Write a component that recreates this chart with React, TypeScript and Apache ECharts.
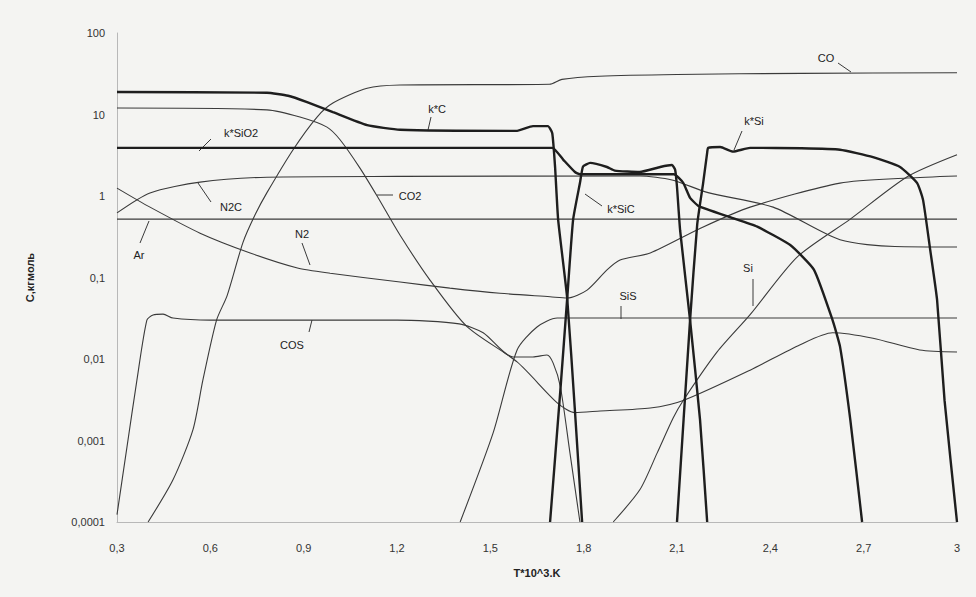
import React, { useEffect, useRef } from "react";
import * as echarts from "echarts";

// ---- tick labels ----
const xTickLabels = ["0,3", "0,6", "0,9", "1,2", "1,5", "1,8", "2,1", "2,4", "2,7", "3"];
const yTickLabels = ["0,0001", "0,001", "0,01", "0,1", "1", "10", "100"];

// ---- series data: [T*10^3 K, C] ----
const CO: number[][] = [
  [0.40, 0.0001], [0.48, 0.00033], [0.544, 0.00135], [0.576, 0.0055], [0.62, 0.03], [0.654, 0.06],
  [0.705, 0.27], [0.745, 0.6], [0.782, 1.1], [0.866, 3.7], [0.943, 9.3], [0.994, 13.8],
  [1.104, 21], [1.21, 23], [1.69, 23.5], [1.73, 27], [1.85, 29.5], [2.1, 31], [2.5, 32], [3.0, 32.5],
];
const kC: number[][] = [
  [0.3, 18.9], [0.782, 18.5], [0.85, 17], [0.911, 14.2], [0.994, 10.7], [1.104, 7.4], [1.21, 6.5],
  [1.586, 6.3], [1.637, 7.2], [1.685, 7.2], [1.699, 5.9], [1.708, 2.3], [1.718, 0.51],
  [1.747, 0.056], [1.772, 0.0023], [1.795, 0.0001],
];
const kSiO2: number[][] = [
  [0.3, 3.9], [1.699, 3.9], [1.734, 2.8], [1.772, 1.97], [1.788, 1.85], [2.0, 1.85], [2.09, 1.85],
  [2.12, 1.45], [2.142, 0.95], [2.17, 0.75], [2.27, 0.55], [2.358, 0.42], [2.464, 0.25],
  [2.54, 0.125], [2.60, 0.03], [2.624, 0.0142], [2.657, 0.0018], [2.695, 0.0001],
];
const kSiC: number[][] = [
  [1.692, 0.0001], [1.725, 0.0041], [1.747, 0.055], [1.766, 0.51], [1.788, 1.44], [1.798, 2.3],
  [1.821, 2.55], [1.875, 2.27], [1.9, 2.05], [1.98, 1.97], [2.046, 2.27], [2.084, 2.4], [2.094, 2.1],
  [2.10, 1.29], [2.11, 0.38], [2.142, 0.03], [2.174, 0.0018], [2.197, 0.0001],
];
const kSi: number[][] = [
  [2.10, 0.0001], [2.142, 0.03], [2.165, 0.45], [2.184, 1.44], [2.197, 3.4], [2.20, 3.9], [2.239, 4.0],
  [2.28, 3.5], [2.335, 3.9], [2.5, 3.85], [2.624, 3.7], [2.73, 3.0], [2.817, 2.27], [2.872, 1.44],
  [2.891, 0.89], [2.914, 0.217], [2.936, 0.053], [2.96, 0.0031], [3.0, 0.0001],
];
const CO2: number[][] = [
  [0.3, 12], [0.782, 11.4], [0.888, 9.3], [0.975, 7.0], [1.017, 4.9], [1.081, 2.2], [1.136, 1.0],
  [1.21, 0.33], [1.306, 0.093], [1.425, 0.025], [1.586, 0.0092], [1.715, 0.0029], [1.772, 0.0022],
  [1.853, 0.0023], [2.014, 0.0025], [2.12, 0.0031], [2.335, 0.0073], [2.496, 0.015], [2.60, 0.021],
  [2.73, 0.018], [2.88, 0.0129], [3.0, 0.0122],
];
const N2C: number[][] = [
  [0.3, 0.62], [0.406, 1.09], [0.567, 1.48], [0.782, 1.7], [1.2, 1.74], [1.98, 1.76], [2.084, 1.57],
  [2.2, 1.1], [2.409, 0.73], [2.624, 0.29], [2.8, 0.24], [3.0, 0.237],
];
const Ar: number[][] = [[0.3, 0.52], [3.0, 0.52]];
const N2: number[][] = [
  [0.3, 1.25], [0.406, 0.73], [0.567, 0.35], [0.728, 0.2], [0.88, 0.131], [0.985, 0.113],
  [1.21, 0.088], [1.37, 0.074], [1.531, 0.064], [1.692, 0.058], [1.747, 0.056], [1.811, 0.07],
  [1.875, 0.124], [1.917, 0.164], [2.014, 0.2], [2.174, 0.40], [2.335, 0.73], [2.624, 1.44],
  [2.84, 1.66], [3.0, 1.76],
];
const COS: number[][] = [
  [0.3, 0.000123], [0.332, 0.00083], [0.364, 0.0055], [0.396, 0.03], [0.416, 0.0347], [0.448, 0.0355],
  [0.48, 0.0318], [0.6, 0.030], [1.2, 0.030], [1.40, 0.027], [1.477, 0.021], [1.573, 0.0106],
  [1.637, 0.0106], [1.682, 0.0112], [1.702, 0.0089], [1.725, 0.0046], [1.756, 0.0007], [1.788, 0.0001],
];
const SiS: number[][] = [
  [1.403, 0.0001], [1.509, 0.00124], [1.586, 0.0129], [1.65, 0.0247], [1.715, 0.0318], [3.0, 0.0318],
];
const Si: number[][] = [
  [1.895, 0.0001], [1.981, 0.00025], [2.036, 0.0007], [2.088, 0.0019], [2.12, 0.0031], [2.229, 0.0122],
  [2.335, 0.035], [2.486, 0.178], [2.657, 0.52], [2.84, 1.72], [3.0, 3.2],
];

// ---- curve annotations (text, label centre px, leader line px) ----
const annotations: { text: string; at: number[]; lead: number[] }[] = [
  { text: "CO", at: [826, 58], lead: [838, 63, 851, 72] },
  { text: "k*C", at: [437, 109], lead: [431, 117, 428, 130] },
  { text: "k*SiO2", at: [241, 133], lead: [211, 139, 199, 151] },
  { text: "N2C", at: [231, 207], lead: [198, 183, 211, 202] },
  { text: "CO2", at: [410, 196], lead: [393, 195, 377, 195] },
  { text: "Ar", at: [139, 255], lead: [140, 243, 149, 221] },
  { text: "N2", at: [302, 234], lead: [302, 243, 310, 265] },
  { text: "COS", at: [292, 345], lead: [309, 332, 312, 320] },
  { text: "k*SiC", at: [621, 209], lead: [602, 206, 585, 194] },
  { text: "SiS", at: [628, 296], lead: [621, 306, 621, 319] },
  { text: "k*Si", at: [754, 121], lead: [742, 131, 734, 150] },
  { text: "Si", at: [748, 268], lead: [753, 279, 753, 306] },
];

const THIN = "#3a3a3a";
const THICK = "#1e1e1e";
const FONT = '"Liberation Sans", Arial, sans-serif';

export default function App() {
  const ref = useRef<HTMLDivElement>(null);
  useEffect(() => {
    if (!ref.current) return;
    const chart = echarts.init(ref.current, undefined, { renderer: "svg" });
    const thin = (name: string, data: number[][]) => ({
      name, type: "line", data, showSymbol: false, smooth: 0.25,
      lineStyle: { color: THIN, width: 1.1 }, silent: true,
    });
    const thick = (name: string, data: number[][]) => ({
      name, type: "line", data, showSymbol: false, smooth: 0.15,
      lineStyle: { color: THICK, width: 2.4 }, silent: true,
    });
    const graphic: any[] = [];
    annotations.forEach((a) => {
      graphic.push({
        type: "line", silent: true,
        shape: { x1: a.lead[0], y1: a.lead[1], x2: a.lead[2], y2: a.lead[3] },
        style: { stroke: THIN, lineWidth: 1 },
      });
      graphic.push({
        type: "text", silent: true, x: a.at[0], y: a.at[1],
        style: { text: a.text, fill: "#222", font: `11px ${FONT}`, align: "center", verticalAlign: "middle" },
      });
    });
    chart.setOption({
      animation: false,
      backgroundColor: "#f4f4f2",
      grid: { left: 117, right: 19, top: 33, bottom: 75, containLabel: false },
      xAxis: {
        type: "value", min: 0.3, max: 3, interval: 0.3,
        name: "T*10^3.K", nameLocation: "middle", nameGap: 45,
        nameTextStyle: { color: "#222", fontSize: 11, fontFamily: FONT, fontWeight: "bold" },
        axisLine: { show: true, lineStyle: { color: "#b8b8b8", width: 1 } },
        axisTick: { show: false },
        splitLine: { show: false },
        axisLabel: {
          color: "#333", fontSize: 11, fontFamily: FONT, margin: 20,
          formatter: (v: number) => xTickLabels[Math.round((v - 0.3) / 0.3)] ?? "",
        },
      },
      yAxis: {
        type: "log", logBase: 10, min: 0.0001, max: 100, splitNumber: 6,
        name: "C,кгмоль", nameLocation: "middle", nameGap: 82, nameRotate: 90,
        nameTextStyle: { color: "#222", fontSize: 11, fontFamily: FONT, fontWeight: "bold" },
        axisLine: { show: true, lineStyle: { color: "#b8b8b8", width: 1 } },
        axisTick: { show: false },
        splitLine: { show: false },
        minorTick: { show: false },
        axisLabel: {
          color: "#333", fontSize: 11, fontFamily: FONT, margin: 12,
          formatter: (v: number) => yTickLabels[Math.round(Math.log10(v)) + 4] ?? "",
        },
      },
      legend: { show: false },
      tooltip: { show: false },
      series: [
        thin("Ar", Ar),
        thin("N2C", N2C),
        thin("N2", N2),
        thin("COS", COS),
        thin("SiS", SiS),
        thin("Si", Si),
        thin("CO2", CO2),
        thin("CO", CO),
        thick("k*C", kC),
        thick("k*SiO2", kSiO2),
        thick("k*SiC", kSiC),
        thick("k*Si", kSi),
      ],
      graphic,
    });
    return () => chart.dispose();
  }, []);
  return (
    <div
      ref={ref}
      style={{ position: "absolute", left: 0, top: 0, width: 976, height: 597 }}
    />
  );
}
